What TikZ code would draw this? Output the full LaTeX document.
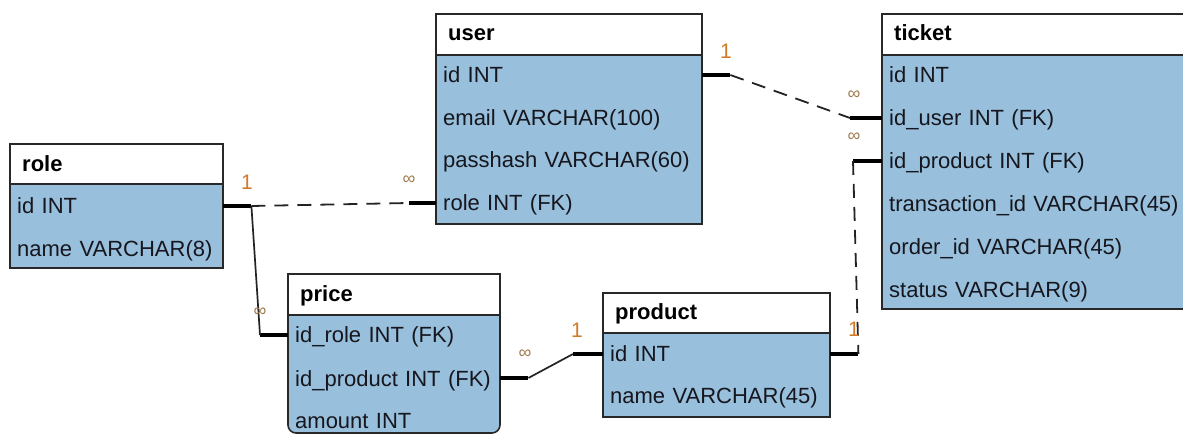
\documentclass[tikz,border=0pt]{standalone}
\usepackage{fontspec}
\setmainfont{Liberation Sans}
\definecolor{bodyfill}{RGB}{152,191,219}
\definecolor{framecol}{RGB}{40,40,40}
\definecolor{textcol}{RGB}{22,22,30}
\definecolor{onecol}{RGB}{210,122,40}
\definecolor{manycol}{RGB}{160,122,78}
\definecolor{linkcol}{RGB}{35,35,35}
\tikzset{
  tbody/.style={fill=bodyfill, draw=framecol, line width=1.6pt},
  thead/.style={fill=white, draw=framecol, line width=1.6pt},
  row/.style={anchor=west, text width=#1, align=left, inner xsep=7pt, inner ysep=0pt,
    text height=16pt, text depth=0pt, text=textcol, font=\fontsize{22}{26}\selectfont},
  title/.style={anchor=west, inner xsep=12pt, inner ysep=0pt, text height=16pt, text depth=0pt,
    text=black, font=\fontsize{22}{26}\selectfont\bfseries},
  stub/.style={line width=4pt, black},
  dashrel/.style={line width=1.8pt, linkcol, dash pattern=on 14pt off 9pt},
  solidrel/.style={line width=1.7pt, linkcol},
  one/.style={text=onecol, inner sep=0pt, font=\fontsize{21}{24}\selectfont},
  many/.style={text=manycol, inner sep=0pt, font=\fontsize{18}{20}\selectfont}
}
\begin{document}
\begin{tikzpicture}[x=1pt, y=-1pt]
\useasboundingbox (0,0) rectangle (1183,435);
\clip (0,0) rectangle (1183,435);

% ---- role ----
\path[tbody] (10,144) rectangle (223,268);
\path[thead] (10,144) rectangle (223,184);
\node[title] (role) at (10,164) {role};
\node[row=199pt] (ro-id) at (10,206) {id INT};
\node[row=199pt] (ro-name) at (10,249) {name VARCHAR(8)};

% ---- user ----
\path[tbody] (436,14) rectangle (702,224);
\path[thead] (436,14) rectangle (702,55);
\node[title] (user) at (436,33) {user};
\node[row=252pt] (us-id) at (436,75) {id INT};
\node[row=252pt] (us-email) at (436,118) {email VARCHAR(100)};
\node[row=252pt] (us-pass) at (436,160) {passhash VARCHAR(60)};
\node[row=252pt] (us-role) at (436,203) {role INT (FK)};

% ---- ticket (runs past the right edge) ----
\path[tbody] (882,14) rectangle (1200,309);
\path[thead] (882,14) rectangle (1200,55);
\node[title] (ticket) at (882,33) {ticket};
\node[row=304pt] (tk-id) at (882,75) {id INT};
\node[row=304pt] (tk-user) at (882,118) {id\_user INT (FK)};
\node[row=304pt] (tk-prod) at (882,161) {id\_product INT (FK)};
\node[row=304pt] (tk-trans) at (882,204) {transaction\_id VARCHAR(45)};
\node[row=304pt] (tk-order) at (882,247) {order\_id VARCHAR(45)};
\node[row=304pt] (tk-status) at (882,290) {status VARCHAR(9)};

% ---- price (rounded lower corners) ----
\path[tbody] (288,274) -- (500,274) {[rounded corners=8pt] -- (500,433) -- (288,433)} -- cycle;
\path[thead] (288,274) rectangle (500,315);
\node[title] (price) at (288,294) {price};
\node[row=198pt] (pc-role) at (288,335) {id\_role INT (FK)};
\node[row=198pt] (pc-prod) at (288,378) {id\_product INT (FK)};
\node[row=198pt] (pc-amount) at (288,420) {amount INT};

% ---- product ----
\path[tbody] (603,293) rectangle (830,417);
\path[thead] (603,293) rectangle (830,333);
\node[title] (product) at (603,312) {product};
\node[row=213pt] (pr-id) at (603,354) {id INT};
\node[row=213pt] (pr-name) at (603,395) {name VARCHAR(45)};

% ---- relations ----
% user.id -> ticket.id_user
\draw[stub] (us-id.east) -- ++(28,0) coordinate (uA);
\draw[stub] (tk-user.west) -- ++(-32,0) coordinate (uB);
\draw[dashrel] (uA) -- (uB);
\node[one] (l-u1) at (726,51) {1};
\node[many] (l-uN) at (854,95) {∞};

% product.id -> ticket.id_product
\draw[stub] (tk-prod.west) -- ++(-29,0) coordinate (pA);
\draw[stub] (pr-id.east) -- ++(28,0) coordinate (pB);
\draw[dashrel] (pA) -- (pB);
\node[many] (l-pN) at (854,137) {∞};
\node[one] (l-p1) at (854,329) {1};

% role.id -> user.role
\draw[stub] (ro-id.east) -- ++(28,0) coordinate (rA);
\draw[stub] (us-role.west) -- ++(-27,0) coordinate (rB);
\draw[dashrel] (rA) -- (rB);
\node[one] (l-r1) at (247,182) {1};
\node[many] (l-rN) at (409,180) {∞};

% role.id -> price.id_role
\draw[stub] (pc-role.west) -- ++(-28,0) coordinate (rC);
\draw[solidrel] (rA) -- (rC);
\node[many] (l-rpN) at (260,312) {∞};

% product.id -> price.id_product
\draw[stub] (pc-prod.east) -- ++(28,0) coordinate (qA);
\draw[stub] (pr-id.west) -- ++(-30,0) coordinate (qB);
\draw[solidrel] (qA) -- (qB);
\node[many] (l-qN) at (525,354) {∞};
\node[one] (l-q1) at (577,330) {1};
\end{tikzpicture}
\end{document}
